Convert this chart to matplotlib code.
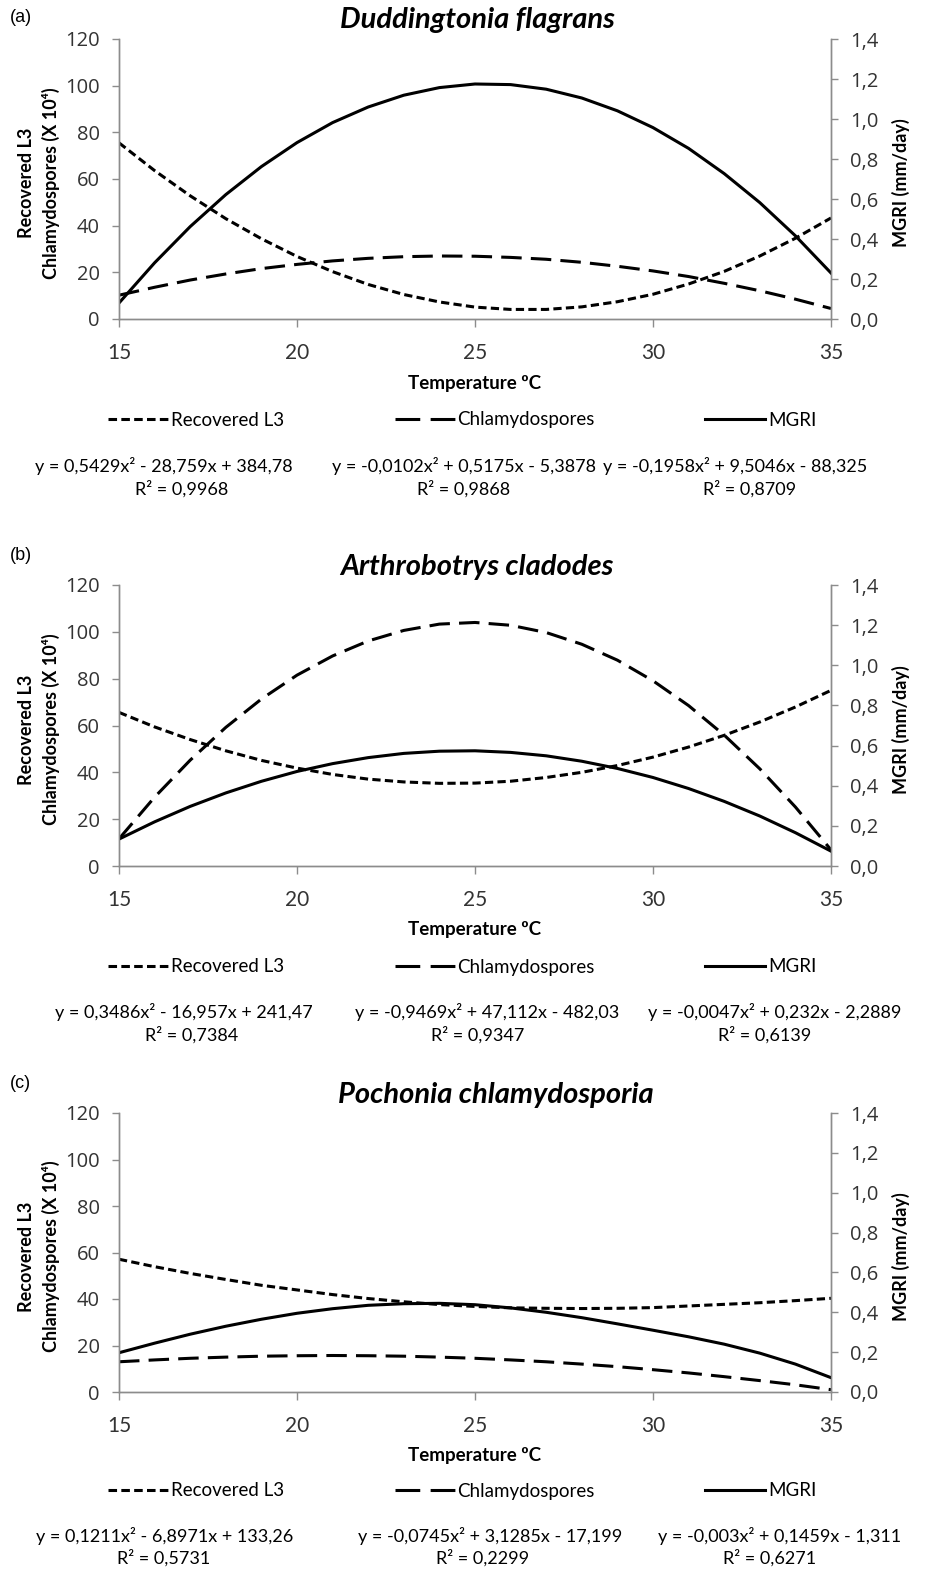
import matplotlib
matplotlib.use('Agg')
import matplotlib.pyplot as plt
from matplotlib.lines import Line2D
from matplotlib.ticker import FuncFormatter

W, H = 928, 1569

temps = list(range(15, 36))

# (a) Duddingtonia flagrans
l3_a = [75.5, 63.6, 52.8, 43.0, 34.4, 26.8, 20.3, 14.8, 10.5, 7.3, 5.1,
        4.1, 4.1, 5.2, 7.4, 10.6, 15.0, 20.4, 27.0, 34.6, 43.3]
chl_a = [10.2, 13.6, 16.7, 19.3, 21.6, 23.4, 24.9, 26.0, 26.7, 27.0, 26.9,
         26.4, 25.6, 24.3, 22.6, 20.6, 18.2, 15.3, 12.1, 8.5, 4.5]
mgri_a = [0.080, 0.281, 0.462, 0.622, 0.762, 0.882, 0.982, 1.060, 1.119, 1.157, 1.175,
          1.172, 1.149, 1.105, 1.041, 0.957, 0.853, 0.727, 0.582, 0.416, 0.230]

# (b) Arthrobotrys cladodes
l3_b = [65.6, 59.4, 54.0, 49.2, 45.1, 41.8, 39.1, 37.1, 35.9, 35.3, 35.4,
        36.2, 37.8, 40.0, 42.9, 46.5, 50.8, 55.8, 61.5, 67.9, 75.0]
chl_b = [11.6, 29.4, 45.2, 59.2, 71.3, 81.5, 89.7, 96.1, 100.6, 103.3, 104.0,
         102.8, 99.7, 94.7, 87.9, 79.1, 68.5, 55.9, 41.5, 25.2, 6.9]
mgri_b = [0.134, 0.220, 0.297, 0.364, 0.422, 0.471, 0.510, 0.540, 0.561, 0.572, 0.574,
          0.566, 0.549, 0.522, 0.486, 0.441, 0.386, 0.322, 0.249, 0.166, 0.074]

# (c) Pochonia chlamydosporia
l3_c = [57.1, 53.9, 51.0, 48.4, 45.9, 43.9, 41.9, 40.2, 38.8, 37.6, 36.8,
        36.2, 36.0, 35.9, 36.0, 36.3, 37.0, 37.7, 38.4, 39.3, 40.3]
chl_c = [13.0, 13.8, 14.5, 15.0, 15.4, 15.6, 15.7, 15.6, 15.4, 15.0, 14.5,
         13.8, 13.0, 12.0, 10.9, 9.6, 8.2, 6.6, 4.9, 3.1, 1.0]
mgri_c = [0.197, 0.245, 0.290, 0.330, 0.365, 0.395, 0.418, 0.435, 0.443, 0.445, 0.438,
          0.422, 0.400, 0.373, 0.342, 0.310, 0.277, 0.240, 0.195, 0.140, 0.072]

titles = ['Duddingtonia flagrans', 'Arthrobotrys cladodes', 'Pochonia chlamydosporia']
letters = ['(a)', '(b)', '(c)']
series_names = ['Recovered L3', 'Chlamydospores', 'MGRI']
equations = [
    ['y = 0,5429x² - 28,759x + 384,78', 'y = -0,0102x² + 0,5175x - 5,3878', 'y = -0,1958x² + 9,5046x - 88,325'],
    ['y = 0,3486x² - 16,957x + 241,47', 'y = -0,9469x² + 47,112x - 482,03', 'y = -0,0047x² + 0,232x - 2,2889'],
    ['y = 0,1211x² - 6,8971x + 133,26', 'y = -0,0745x² + 3,1285x - 17,199', 'y = -0,003x² + 0,1459x - 1,311'],
]
r2_values = [
    ['R² = 0,9968', 'R² = 0,9868', 'R² = 0,8709'],
    ['R² = 0,7384', 'R² = 0,9347', 'R² = 0,6139'],
    ['R² = 0,5731', 'R² = 0,2299', 'R² = 0,6271'],
]
data = [(l3_a, chl_a, mgri_a), (l3_b, chl_b, mgri_b), (l3_c, chl_c, mgri_c)]

# layout in pixels (top, bottom of plot area, etc.)
layout = [
    dict(top=39, bottom=319, letter=18, title=20, title_x=477, xlabel=383, legend=420,
         eq=466, r2=489, eq_x=[164, 464, 735], r2_x=[182, 464, 750]),
    dict(top=585, bottom=866, letter=556, title=567, title_x=477, xlabel=930, legend=967,
         eq=1012, r2=1035, eq_x=[184, 487, 775], r2_x=[192, 478, 765]),
    dict(top=1113, bottom=1392, letter=1083, title=1095, title_x=496, xlabel=1456, legend=1491,
         eq=1536, r2=1558, eq_x=[165, 490, 780], r2_x=[164, 483, 770]),
]

SPINE = '#8c8c8c'
TXT = '#333333'
CAL = ['Lato', 'DejaVu Sans']
short_dash = (2.7, 1.4)
long_dash = (6.7, 3.0)
LW = 2.2


def fy(py):
    return 1 - py / H


fig = plt.figure(figsize=(W / 100, H / 100), dpi=100)
fig.patch.set_facecolor('white')

comma = FuncFormatter(lambda v, p: ('%.1f' % v).replace('.', ','))

for i, lay in enumerate(layout):
    l3, chl, mgri = data[i]
    ax = fig.add_axes([119 / W, fy(lay['bottom']), 712 / W, (lay['bottom'] - lay['top']) / H])
    ax2 = ax.twinx()

    ax.plot(temps, l3, color='black', lw=LW, dashes=short_dash)
    ax.plot(temps, chl, color='black', lw=LW, dashes=long_dash)
    ax2.plot(temps, mgri, color='black', lw=LW)

    ax.set_xlim(15, 35)
    ax.set_ylim(0, 120)
    ax2.set_ylim(0, 1.4)
    ax.set_xticks([15, 20, 25, 30, 35])
    ax.set_yticks(range(0, 121, 20))
    ax2.set_yticks([0, 0.2, 0.4, 0.6, 0.8, 1.0, 1.2, 1.4])
    ax2.yaxis.set_major_formatter(comma)

    for a in (ax, ax2):
        a.spines['top'].set_visible(False)
        for s in ('left', 'right', 'bottom'):
            a.spines[s].set_color(SPINE)
            a.spines[s].set_linewidth(1.0)
        a.patch.set_visible(False)
    ax.tick_params(axis='y', direction='out', length=5, width=1, color=SPINE, pad=9,
                   labelsize=14.5, labelcolor=TXT, labelfontfamily='Open Sans')
    ax2.tick_params(axis='y', direction='out', length=5, width=1, color=SPINE, pad=9,
                    labelsize=14.5, labelcolor=TXT, labelfontfamily='Open Sans')
    ax.tick_params(axis='x', direction='out', length=6, width=1, color=SPINE, pad=11,
                   labelsize=15, labelcolor=TXT, labelfontfamily='Lato')

    fig.text(10 / W, fy(lay['letter']), letters[i], fontsize=13, family='Liberation Sans',
             ha='left', va='center')
    fig.text(lay['title_x'] / W, fy(lay['title']), titles[i], fontsize=21, family=CAL,
             fontweight='bold', fontstyle='italic', ha='center', va='center')

    mid = (lay['top'] + lay['bottom']) / 2 + 4
    fig.text(39 / W, fy(mid), 'Recovered L3\nChlamydospores (X 10⁴)', rotation=90,
             fontsize=13, family=CAL, fontweight='bold', ha='center', va='center',
             multialignment='center', linespacing=1.4)
    fig.text(901 / W, fy(mid), 'MGRI (mm/day)', rotation=90, fontsize=13, family=CAL,
             fontweight='bold', ha='center', va='center')
    fig.text(475 / W, fy(lay['xlabel']), 'Temperature ºC', fontsize=13.5, family=CAL,
             fontweight='bold', ha='center', va='center')

    # legend handles: dash patterns chosen to end cleanly on the handle length
    handles = [Line2D([], [], color='black', lw=LW, dashes=(2.8, 1.4)),
               Line2D([], [], color='black', lw=LW, dashes=(8.1, 3.4)),
               Line2D([], [], color='black', lw=LW)]
    fig.legend(handles, series_names, loc='center left',
               bbox_to_anchor=(108 / W, fy(lay['legend'])), ncol=3, frameon=False,
               prop={'family': CAL, 'size': 13.5}, handlelength=3.2, handletextpad=0.15,
               columnspacing=5.9, borderpad=0, borderaxespad=0)

    for j in range(3):
        fig.text(lay['eq_x'][j] / W, fy(lay['eq']), equations[i][j], fontsize=13,
                 family=CAL, ha='center', va='center')
        fig.text(lay['r2_x'][j] / W, fy(lay['r2']), r2_values[i][j], fontsize=13,
                 family=CAL, ha='center', va='center')

fig.savefig('out.png', dpi=100)
